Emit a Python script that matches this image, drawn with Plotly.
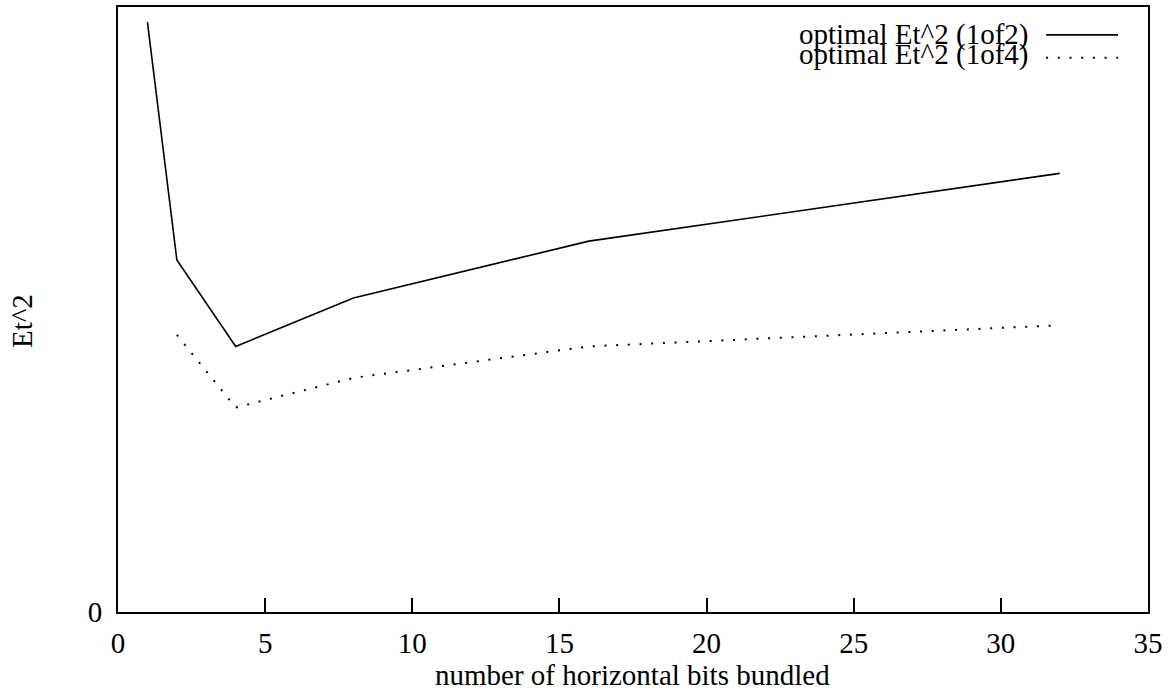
import plotly.graph_objects as go

# data (arbitrary y units, axis shows only 0)
bits_1of2 = [1, 2, 4, 8, 16, 32]
et2_1of2 = [97.5, 58.2, 43.9, 51.9, 61.3, 72.5]
bits_1of4 = [2, 4, 8, 16, 32]
et2_1of4 = [45.8, 33.8, 38.7, 43.9, 47.4]

x_ticks = [0, 5, 10, 15, 20, 25, 30, 35]
y_ticks = [0]
series_names = ["optimal Et^2 (1of2)", "optimal Et^2 (1of4)"]
x_title = "number of horizontal bits bundled"
y_title = "Et^2"

FONT = "Liberation Serif"
FS = 29

fig = go.Figure()
fig.add_trace(go.Scatter(x=bits_1of2, y=et2_1of2, mode="lines",
                         line=dict(color="black", width=1.6), name=series_names[0],
                         showlegend=False))
fig.add_trace(go.Scatter(x=bits_1of4, y=et2_1of4, mode="lines",
                         line=dict(color="black", width=2, dash="2px,9.7px"),
                         name=series_names[1], showlegend=False))

W, H = 1168, 692
L, R, T, B = 118, 19, 5, 80
pw, ph = W - L - R, H - T - B

def px(xp):
    return (xp - L) / pw

def py(yp):
    return (H - B - yp) / ph

annotations = [
    dict(text=x_title, x=px(633), y=py(675), xref="paper", yref="paper",
         xanchor="center", yanchor="middle", showarrow=False,
         font=dict(family=FONT, size=FS, color="black")),
    dict(text=y_title, x=px(22), y=py(320), xref="paper", yref="paper",
         xanchor="center", yanchor="middle", showarrow=False, textangle=-90,
         font=dict(family=FONT, size=FS, color="black")),
    dict(text=series_names[0], x=px(1031), y=py(33), xref="paper", yref="paper",
         xanchor="right", yanchor="middle", showarrow=False,
         font=dict(family=FONT, size=FS, color="black")),
    dict(text=series_names[1], x=px(1031), y=py(53), xref="paper", yref="paper",
         xanchor="right", yanchor="middle", showarrow=False,
         font=dict(family=FONT, size=FS, color="black")),
]

shapes = [
    dict(type="line", xref="paper", yref="paper", x0=px(1047), x1=px(1119),
         y0=py(33), y1=py(33), line=dict(color="black", width=1.6)),
    dict(type="line", xref="paper", yref="paper", x0=px(1047), x1=px(1119),
         y0=py(56), y1=py(56), line=dict(color="black", width=2, dash="2px,9.7px")),
]

fig.update_layout(
    width=W, height=H,
    margin=dict(l=L, r=R, t=T, b=B, pad=0),
    paper_bgcolor="white", plot_bgcolor="white",
    font=dict(family=FONT, size=FS, color="black"),
    annotations=annotations, shapes=shapes,
    xaxis=dict(range=[0, 35], tickvals=x_ticks, ticktext=[str(v) for v in x_ticks],
               ticks="inside", ticklen=14, tickwidth=1.5, tickcolor="black",
               showline=True, linecolor="black", linewidth=2, mirror=True,
               showgrid=False, zeroline=False, ticklabelstandoff=4),
    yaxis=dict(range=[0, 100], tickvals=y_ticks, ticktext=[str(v) for v in y_ticks],
               ticks="inside", ticklen=14, tickwidth=1.5, tickcolor="black",
               showline=True, linecolor="black", linewidth=2, mirror=True,
               showgrid=False, zeroline=False, ticklabelstandoff=8),
)

fig.write_html("out.html")
